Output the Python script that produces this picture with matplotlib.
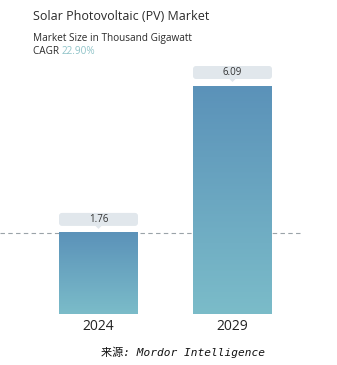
import numpy as np
import matplotlib.pyplot as plt
from matplotlib.patches import FancyBboxPatch, Polygon
from matplotlib.colors import LinearSegmentedColormap

years = ["2024", "2029"]
values = [1.76, 6.09]
title = "Solar Photovoltaic (PV) Market"
subtitle = "Market Size in Thousand Gigawatt"
cagr = "22.90%"
source = "来源: Mordor Intelligence"

W, H = 337, 365
fig = plt.figure(figsize=(W / 100, H / 100), dpi=100)
fig.patch.set_facecolor("white")

# axes spans the full width; x in pixels, y in data units
top_px, bot_px = 40, 314
ax = fig.add_axes([0, (H - bot_px) / H, 1, (bot_px - top_px) / H])
base = -0.63
ymax = base + (values[1] - base) * (bot_px - top_px) / (bot_px - 86)
ax.set_xlim(0, W)
ax.set_ylim(base, ymax)
ax.axis("off")
upp = (ymax - base) / (bot_px - top_px)  # data units per pixel

xs = [98.5, 232.5]
bw = 79
cmap = LinearSegmentedColormap.from_list("bar", ["#7bbcc9", "#5b92b9"])
grad = np.linspace(0, 1, 256).reshape(-1, 1)

for x, v in zip(xs, values):
    ax.imshow(grad, cmap=cmap, origin="lower", aspect="auto",
              extent=[x - bw / 2, x + bw / 2, base, v], zorder=2)
    # value tag above the bar
    b0 = v + 7 * upp
    bh = 13 * upp
    box = FancyBboxPatch((x - bw / 2, b0), bw, bh,
                         boxstyle="round,pad=0,rounding_size=3",
                         mutation_aspect=upp, fc="#e1e7ec", ec="none", zorder=3)
    ax.add_patch(box)
    ax.add_patch(Polygon([[x - 3, b0], [x + 3, b0], [x, b0 - 3 * upp]],
                         closed=True, fc="#e1e7ec", ec="none", zorder=3))
    ax.text(x, b0 + bh / 2, f"{v:.2f}", ha="center", va="center",
            fontsize=7, color="#333333", family="Open Sans", zorder=4)

ax.axhline(values[0], xmax=300 / W, color="#9aa3a8", lw=0.8, ls=(0, (4, 3)), zorder=1)

for x, yr in zip(xs, years):
    fig.text(x / W, 1 - 326 / H, yr, ha="center", va="center",
             fontsize=10, color="#222222", family="Open Sans")

fig.text(33 / W, 1 - 17 / H, title, fontsize=9, color="#2b2b2b",
         family="Open Sans", fontweight="medium", va="center")
fig.text(33 / W, 1 - 38 / H, subtitle, fontsize=7.2, color="#2b2b2b",
         family="Open Sans", va="center")
fig.text(33 / W, 1 - 52 / H, "CAGR ", fontsize=7.2, color="#2b2b2b",
         family="Open Sans", va="center")
fig.text(62 / W, 1 - 52 / H, cagr, fontsize=7.2, color="#8fc3c8",
         family="Open Sans", va="center")

fig.text(183 / W, 1 - 352 / H, source, fontsize=8, color="#111111",
         family=["DejaVu Sans Mono", "Noto Sans CJK SC"], style="italic",
         ha="center", va="center")

fig.savefig("out.png", dpi=100, facecolor="white")
